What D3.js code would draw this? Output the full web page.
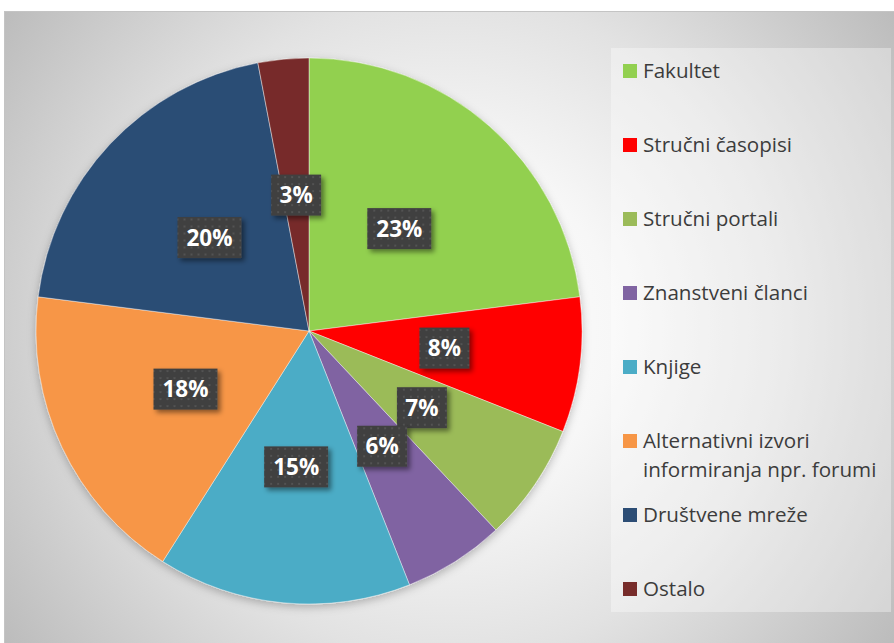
<!DOCTYPE html>
<html>
<head>
<meta charset="utf-8">
<script src="https://cdn.jsdelivr.net/npm/d3@7/dist/d3.min.js"></script>
<style>
  html, body { margin: 0; padding: 0; background: #fff; }
  svg { display: block; }
</style>
</head>
<body>
<svg id="chart" width="894" height="643"></svg>
<script>
// Izvori informiranja – udio odgovora (%)
const categories = [
  "Fakultet",
  "Stručni časopisi",
  "Stručni portali",
  "Znanstveni članci",
  "Knjige",
  "Alternativni izvori informiranja npr. forumi",
  "Društvene mreže",
  "Ostalo"
];
const values = [23, 8, 7, 6, 15, 18, 20, 3];
const colors = ["#92d050", "#ff0000", "#9bbb59", "#8064a2", "#4bacc6", "#f79646", "#2c4d75", "#772c2a"];
// legend text, split into display lines
const legendLines = [
  ["Fakultet"],
  ["Stručni časopisi"],
  ["Stručni portali"],
  ["Znanstveni članci"],
  ["Knjige"],
  ["Alternativni izvori", "informiranja npr. forumi"],
  ["Društvene mreže"],
  ["Ostalo"]
];

const svg = d3.select("#chart");
const defs = svg.append("defs");

// chart area background: radial fade from white centre to grey edges
const bg = defs.append("radialGradient")
  .attr("id", "bgGrad")
  .attr("gradientUnits", "userSpaceOnUse")
  .attr("cx", 449).attr("cy", 327).attr("r", 550);
[[0, "#ffffff"], [0.3, "#f7f7f7"], [0.6, "#e2e2e2"], [1, "#bbbbbb"]].forEach(([o, c]) =>
  bg.append("stop").attr("offset", o).attr("stop-color", c));

// soft shadow under the pie
const pieShadow = defs.append("filter").attr("id", "pieShadow")
  .attr("x", "-10%").attr("y", "-10%").attr("width", "120%").attr("height", "125%");
pieShadow.append("feDropShadow").attr("dx", 0).attr("dy", 3).attr("stdDeviation", 4)
  .attr("flood-color", "#000").attr("flood-opacity", 0.25);

// shadow under label boxes
const boxShadow = defs.append("filter").attr("id", "boxShadow")
  .attr("x", "-30%").attr("y", "-30%").attr("width", "170%").attr("height", "180%");
boxShadow.append("feDropShadow").attr("dx", 3).attr("dy", 3).attr("stdDeviation", 2.5)
  .attr("flood-color", "#000").attr("flood-opacity", 0.45);

// dotted dark fill for label boxes
const pat = defs.append("pattern").attr("id", "dots")
  .attr("patternUnits", "userSpaceOnUse").attr("width", 7).attr("height", 7);
pat.append("rect").attr("width", 7).attr("height", 7).attr("fill", "#404040");
pat.append("rect").attr("x", 2).attr("y", 2).attr("width", 2).attr("height", 2).attr("fill", "#525252");

// chart area
svg.append("rect")
  .attr("x", 4.5).attr("y", 11.5).attr("width", 900).attr("height", 640)
  .attr("fill", "url(#bgGrad)")
  .attr("stroke", "#c4c4c4").attr("stroke-width", 1);

// legend panel
const legendX = 611, legendY = 48, legendW = 280, legendH = 564;
svg.append("rect")
  .attr("x", legendX).attr("y", legendY).attr("width", legendW).attr("height", legendH)
  .attr("fill", "#ffffff").attr("fill-opacity", 0.35);

// pie
const cx = 309, cy = 331, radius = 273;
const pie = d3.pie().sort(null).value(d => d)(values);
const arc = d3.arc().innerRadius(0).outerRadius(radius);
const labelArc = d3.arc().innerRadius(radius / 2).outerRadius(radius / 2);

const g = svg.append("g").attr("transform", `translate(${cx},${cy})`);
g.append("g").attr("filter", "url(#pieShadow)")
  .selectAll("path")
  .data(pie)
  .join("path")
  .attr("d", arc)
  .attr("fill", (d, i) => colors[i])
  .attr("stroke", "rgba(255,255,255,0.55)")
  .attr("stroke-width", 0.75);

// data labels
const labels = g.append("g").selectAll("g")
  .data(pie)
  .join("g")
  .attr("transform", d => `translate(${labelArc.centroid(d)})`);

labels.append("rect")
  .attr("x", d => -(String(d.data).length === 1 ? 50 : 64) / 2)
  .attr("y", -20.5)
  .attr("width", d => String(d.data).length === 1 ? 50 : 64)
  .attr("height", 41)
  .attr("fill", "url(#dots)")
  .attr("filter", "url(#boxShadow)");

labels.append("text")
  .attr("text-anchor", "middle")
  .attr("dy", "0.36em")
  .attr("font-family", "'Open Sans', sans-serif")
  .attr("font-weight", 700)
  .attr("font-size", 22.5)
  .attr("fill", "#ffffff")
  .text(d => d.data + "%");

// legend entries
const legend = svg.append("g");
const firstBaseline = 78, step = 74;
const items = legend.selectAll("g")
  .data(categories)
  .join("g")
  .attr("transform", (d, i) => `translate(623,${firstBaseline + i * step})`);

items.append("rect")
  .attr("x", 0).attr("y", -14)
  .attr("width", 14).attr("height", 14)
  .attr("fill", (d, i) => colors[i]);

items.append("text")
  .attr("x", 20)
  .attr("font-family", "'Open Sans', sans-serif")
  .attr("font-size", 20.6)
  .attr("fill", "#3c3c3c")
  .selectAll("tspan")
  .data((d, i) => legendLines[i])
  .join("tspan")
  .attr("x", 20)
  .attr("dy", (d, j) => j === 0 ? 0 : 29)
  .text(d => d);
</script>
</body>
</html>
